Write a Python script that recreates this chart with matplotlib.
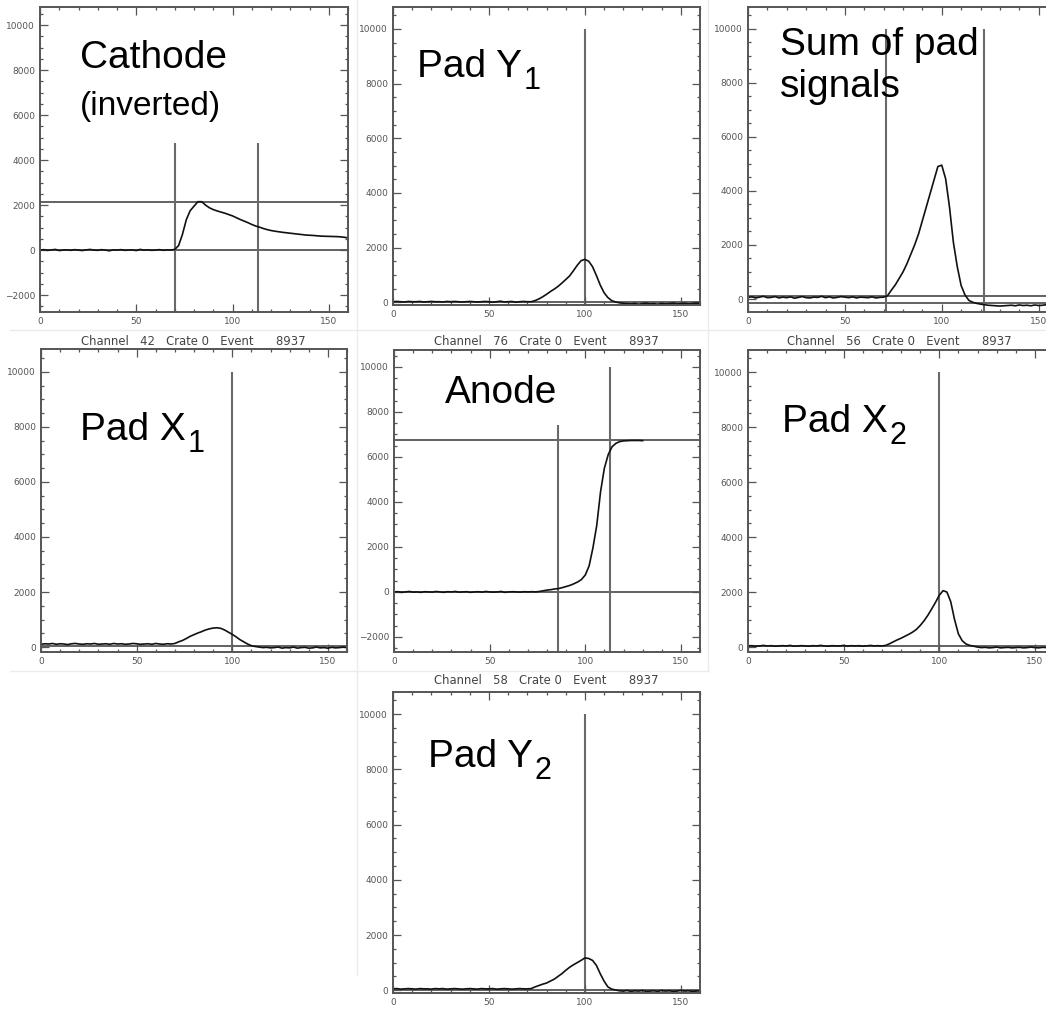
import numpy as np
import matplotlib
matplotlib.use('Agg')
import matplotlib.pyplot as plt
from matplotlib.ticker import MultipleLocator

plt.rcParams['font.family'] = ['Liberation Sans', 'DejaVu Sans']

W, H = 1046, 1010

# channel index of every second sample
channels = np.arange(0, 161, 2)

cathode = [0, 20, -10, 10, 30, -20, 0, 10, -10, 20, 0, -20, 10, 30, 0, -10, 20, 0,
           -30, 10, 0, 20, -10, 0, 10, -20, 30, 0, 10, -10, 0, 20, -10, 10, 0,
           30, 200, 700, 1350, 1750, 1950, 2150, 2150, 2000, 1880, 1800, 1740, 1690,
           1640, 1580, 1520, 1440, 1360, 1290, 1220, 1140, 1070, 1020, 960, 910, 870,
           840, 815, 790, 770, 750, 730, 710, 690, 670, 660, 650, 635, 620, 615, 610,
           605, 600, 590, 570, 540]

pad_y1 = [20, 30, 20, 10, 30, 20, 20, 30, 10, 20, 30, 20, 20, 10, 30, 20, 30, 20,
          10, 20, 30, 20, 10, 20, 30, 20, 0, 20, 40, 10, 20, 30, 0, 20, 30, 20,
          20, 60, 120, 200, 290, 390, 480, 580, 700, 830, 960, 1150, 1350, 1520, 1570,
          1500, 1300, 980, 630, 350, 170, 60, 10, -20, -40,
          -50, -60, -40, -70, -50, -30, -60, -50, -70, -40, -60, -50, -30, -60, -50,
          -40, -60, -50, -30, -40]

pad_sum = [60, 80, 40, 70, 100, 50, 60, 90, 40, 70, 50, 80, 30, 60, 90, 50, 40, 70,
           60, 100, 50, 80, 40, 60, 90, 70, 50, 80, 40, 70, 60, 50, 80, 40, 60, 70,
           120, 330, 520, 760, 1000, 1300, 1650, 2000, 2400, 2900, 3400, 3900, 4400,
           4900, 4950, 4450, 3400, 2100, 1200, 500, 150, -50, -120, -160, -190,
           -210, -230, -240, -250, -260, -250, -240, -230, -250, -220, -240, -230,
           -250, -220, -240, -230, -210, -240, -220, -230]

pad_x1 = [100, 120, 110, 130, 100, 120, 110, 90, 120, 130, 110, 100, 120, 110, 130,
          100, 110, 120, 100, 130, 110, 120, 100, 110, 130, 120, 100, 110, 120, 100,
          130, 110, 100, 120, 110, 130,
          190, 240, 310, 390, 450, 510, 560, 620, 660, 690, 700, 680, 620, 540, 460,
          370, 270, 190, 110, 50, 20, 0, -20,
          -10, -30, -20, 0, -40, -20, -30, 0, -40, -20, -10, -40, -30, 0, -30, -20,
          -40, -10, -30, -20, 0, -20]

# anode trace stops at channel 130
anode = [0, 10, -20, 0, 20, -10, 0, -20, 10, 0, -10, 20, 0, -20, 10, 0, 20, -10, 0,
         10, -20, 0, 10, -10, 20, 0, -10, 0, 20, -20, 0, 10, 0, -10, 10, 0, 10, 0,
         20, 50, 80, 100, 130, 150, 190, 240, 290, 360, 440, 550, 750, 1150,
         1950, 2950, 4450, 5500, 6100, 6450, 6600, 6680, 6710, 6720, 6730, 6730,
         6730, 6720]

pad_x2 = [40, 50, 30, 40, 60, 40, 50, 30, 40, 50, 40, 60, 30, 40, 50, 40, 30, 50,
          40, 60, 40, 30, 50, 40, 40, 60, 30, 50, 40, 50, 30, 40, 60, 40, 50, 40,
          60, 120, 190, 260, 320, 390, 460, 540, 640, 780, 950, 1150, 1380, 1620,
          1880, 2050, 2000, 1650, 1000, 480, 230, 110, 60, 30, 0,
          -20, -10, -30, -20, 0, -30, -20, -10, -30, -20, -10, -30, -20, 0, -20,
          -30, -10, -20, -30, -20]

pad_y2 = [50, 60, 40, 50, 60, 50, 40, 60, 50, 50, 40, 60, 50, 60, 40, 50, 60, 50,
          40, 50, 60, 50, 40, 60, 50, 50, 60, 40, 50, 60, 50, 40, 50, 60, 50, 50,
          60, 120, 170, 220, 260, 330, 400, 500, 600, 720, 830, 920, 1000, 1080,
          1170, 1150, 1080, 900, 600, 330, 120, 40, 10,
          -20, -30, -10, -40, -20, -30, -10, -40, -30, -20, -40, -10, -30, -20,
          -40, -30, -10, -30, -20, -40, -30, -20]

# cursor lines: channel positions, their top ends, and horizontal levels
cathode_vx, cathode_vtop, cathode_h = [70, 113], [4750, 4750], [0, 2150]
pad_y1_vx, pad_y1_vtop, pad_y1_h = [100], [10000], [0]
pad_sum_vx, pad_sum_vtop, pad_sum_h = [71, 122], [10000, 10000], [100, -150]
pad_x1_vx, pad_x1_vtop, pad_x1_h = [100], [10000], [30]
anode_vx, anode_vtop, anode_h = [86, 113], [7400, 10000], [0, 6750]
pad_x2_vx, pad_x2_vtop, pad_x2_h = [100], [10000], [20]
pad_y2_vx, pad_y2_vtop, pad_y2_h = [100], [10000], [20]

channel_titles = ['Channel   42   Crate 0   Event      8937',
                  'Channel   76   Crate 0   Event      8937',
                  'Channel   56   Crate 0   Event      8937',
                  'Channel   58   Crate 0   Event      8937']

fig = plt.figure(figsize=(W / 100, H / 100), dpi=100)
fig.patch.set_facecolor('white')


def px_box(left, top, right, bottom):
  return [left / W, 1 - bottom / H, (right - left) / W, (bottom - top) / H]


def fig_xy(x, y):
  return x / W, 1 - y / H


def draw_panel(box, ylim, signal, vx, vtop, hlev):
  ax = fig.add_axes(px_box(*box))
  ax.set_xlim(0, 160)
  ax.set_ylim(*ylim)
  for y in hlev:
    ax.axhline(y, color='#555555', lw=1.3, zorder=1)
  ax.vlines(vx, ylim[0], vtop, color='#6a6a6a', lw=1.5, zorder=1)
  ax.plot(channels[:len(signal)], signal, color='#111111', lw=1.2, zorder=2)
  ax.xaxis.set_major_locator(MultipleLocator(50))
  ax.xaxis.set_minor_locator(MultipleLocator(10))
  ax.yaxis.set_major_locator(MultipleLocator(2000))
  ax.yaxis.set_minor_locator(MultipleLocator(500))
  ax.tick_params(which='both', direction='in', top=True, right=True,
                 color='#555555', width=0.9)
  ax.tick_params(which='major', length=5.5, labelsize=6.5, labelcolor='#555555', pad=3.5)
  ax.tick_params(which='minor', length=2.5)
  for lab in ax.get_xticklabels() + ax.get_yticklabels():
    lab.set_family('DejaVu Sans')
  for sp in ax.spines.values():
    sp.set_color('#555555')
    sp.set_linewidth(1.4)
  return ax


draw_panel((40, 7, 348, 312), (-2750, 10800), cathode, cathode_vx, cathode_vtop, cathode_h)
draw_panel((393, 7, 700, 305), (-100, 10800), pad_y1, pad_y1_vx, pad_y1_vtop, pad_y1_h)
draw_panel((748, 7, 1058, 312), (-480, 10800), pad_sum, pad_sum_vx, pad_sum_vtop, pad_sum_h)
draw_panel((41, 349, 347, 652), (-180, 10830), pad_x1, pad_x1_vx, pad_x1_vtop, pad_x1_h)
draw_panel((394, 350, 700, 652), (-2670, 10750), anode, anode_vx, anode_vtop, anode_h)
draw_panel((748, 350, 1054, 652), (-180, 10800), pad_x2, pad_x2_vx, pad_x2_vtop, pad_x2_h)
draw_panel((393, 692, 700, 993), (-100, 10800), pad_y2, pad_y2_vx, pad_y2_vtop, pad_y2_h)

# faint borders between the pasted screen shots
sep = dict(color='#ebebeb', lw=1.0, transform=fig.transFigure, zorder=0)
fig.add_artist(plt.Line2D([10 / W, 1], [1 - 330 / H] * 2, **sep))
fig.add_artist(plt.Line2D([10 / W, 708 / W], [1 - 671 / H] * 2, **sep))
fig.add_artist(plt.Line2D([357 / W] * 2, [1, 1 - 975 / H], **sep))
fig.add_artist(plt.Line2D([708 / W] * 2, [1, 1 - 671 / H], **sep))

# IDL plot titles
for txt, (cx, cy) in zip(channel_titles, [(193, 341), (546, 341), (899, 341), (546, 681)]):
  fig.text(*fig_xy(cx, cy), txt, ha='center', va='center', fontsize=8.4,
           color='#444444', family='DejaVu Sans')

# slide annotations, subscript hung off the bottom right of the main word
big = 28


def label(x, y, main, sub=None, size=big):
  t = fig.text(*fig_xy(x, y), main, fontsize=size, va='baseline')
  if sub is not None:
    plt.annotate(sub, xy=(1, 0), xycoords=t, xytext=(2, -4),
                 textcoords='offset pixels', fontsize=22, va='baseline')
  return t


label(80, 68, 'Cathode')
label(80, 115, '(inverted)', size=24)
label(417, 77, 'Pad Y', '1')
label(780, 55, 'Sum of pad')
label(780, 97, 'signals')
label(80, 440, 'Pad X', '1')
label(445, 403, 'Anode')
label(782, 432, 'Pad X', '2')
label(428, 767, 'Pad Y', '2')

fig.savefig('out.png', dpi=100)
